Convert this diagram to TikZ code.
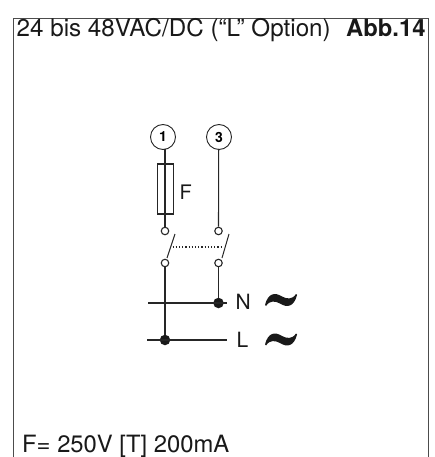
\documentclass[tikz,border=0pt]{standalone}
\usepackage{fontspec}
\setmainfont{TeX Gyre Heros}
\tikzset{
  x=1pt,y=-1pt,
  wire/.style={line width=1.1pt,color=black!85},
  term/.style={circle,draw=black!85,line width=1.1pt,fill=white,minimum size=7.5pt,inner sep=0pt},
  junction/.style={circle,fill=black!90,minimum size=10.5pt,inner sep=0pt},
  pin/.style={circle,draw=black!85,line width=0.9pt,fill=white,minimum size=25pt,inner sep=0pt,font=\bfseries\fontsize{14}{14}\selectfont},
  lbl/.style={inner sep=0pt,anchor=base west,text=black!90},
  big/.style={font=\fontsize{24.2}{25}\selectfont},
  mid/.style={font=\fontsize{21}{22}\selectfont},
  fuse/.style={draw=black!85,line width=1.1pt,minimum width=16.5pt,minimum height=50pt,inner sep=0pt},
  tildeshape/.style={fill=black!90,draw=none}
}
\begin{document}
\begin{tikzpicture}
\useasboundingbox (0,0) rectangle (435,457);
\draw[line width=1pt,color=black!70] (13,457) -- (13,19) -- (428,19) -- (428,457);
\node[lbl,big] (title) at (16.5,37) {24 bis 48VAC/DC (“L” Option)};
\node[lbl,font=\fontsize{23.8}{25}\selectfont] (abb) at (346,37) {\bfseries Abb.14};
\node[lbl,font=\fontsize{23.8}{25}\selectfont] (foot) at (22,452.7) {F= 250V [T] 200mA};
\coordinate (nw) at (148,303);
\coordinate (ne) at (227,303);
\coordinate (lw) at (147,340);
\coordinate (le) at (227,340);
\node[pin] (p1) at (163,137) {1};
\node[pin] (p3) at (219,137) {3};
\node[term] (t1) at (165,231) {};
\node[term] (t3) at (218.5,231) {};
\node[term] (b1) at (165,263) {};
\node[term] (b3) at (218.5,263) {};
\node[junction] (jn) at (218.5,303) {};
\node[junction] (jl) at (165,340) {};
\node[fuse] (fu) at (165.3,189) {};
\node[lbl,font=\fontsize{20}{20}\selectfont] (flab) at (179.5,199) {F};
\node[lbl,mid] (nlab) at (235.5,309) {N};
\node[lbl,mid] (llab) at (236.5,347) {L};
\coordinate (s1a) at (167,258);
\coordinate (s1b) at (175,234);
\coordinate (s3a) at (222,258);
\coordinate (s3b) at (229,234);
\coordinate (d1) at (172.5,247);
\coordinate (d3) at (222,247);
\draw[wire] (nw) -- (ne);
\draw[wire] (lw) -- (le);
\draw[wire] (165,149) -- (t1);
\draw[wire] (218.7,149) -- (t3);
\draw[wire] (b1) -- (jl);
\draw[wire] (b3) -- (jn);
\draw[wire,line width=1pt] (s1a) -- (s1b);
\draw[wire,line width=1pt] (s3a) -- (s3b);
\draw[line width=1.2pt,dotted,color=black!85] (d1) -- (d3);
\foreach \yy in {300,339.5}{
\fill[tildeshape] (265,\yy+5) .. controls (268,\yy-7) and (275,\yy-8) .. (282,\yy-3.5)
  .. controls (287,\yy-1) and (292,\yy) .. (296,\yy-6)
  -- (297,\yy-5) .. controls (294,\yy+7) and (287,\yy+8) .. (280,\yy+3.5)
  .. controls (275,\yy+1) and (270,\yy) .. (266,\yy+6) -- cycle;
}
\end{tikzpicture}
\end{document}
